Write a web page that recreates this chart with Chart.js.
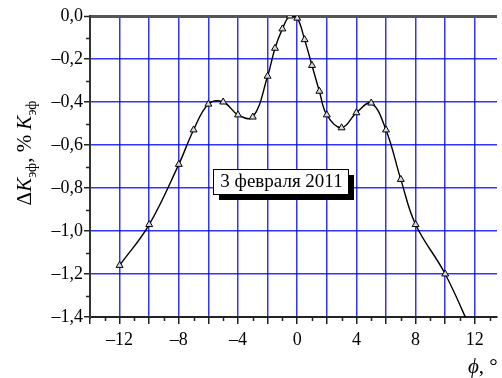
<!DOCTYPE html>
<html>
<head>
<meta charset="utf-8">
<script src="https://cdn.jsdelivr.net/npm/chart.js@4/dist/chart.umd.min.js"></script>
<style>
	html, body { margin: 0; padding: 0; background: #fff; }
	#wrap { width: 502px; height: 378px; overflow: hidden; }
</style>
</head>
<body>
<div id="wrap"><canvas id="chart" width="502" height="378"></canvas></div>
<script>
// Угол phi, градусы
const phi = [-12, -10, -8, -7, -6, -5, -4, -3, -2, -1.5, -1, -0.5, 0, 0.5, 1, 1.5, 2, 3, 4, 5, 6, 7, 8, 10, 12]
// Изменение K_эф, % (последняя точка за пределами графика)
const dK = [-1.16, -0.97, -0.69, -0.53, -0.41, -0.4, -0.46, -0.47, -0.28, -0.15, -0.06, 0.0, -0.01, -0.11, -0.23, -0.35, -0.46, -0.52, -0.45, -0.405, -0.53, -0.76, -0.97, -1.2, -1.5]

// Деления осей
const xMajor = [-14, -12, -10, -8, -6, -4, -2, 0, 2, 4, 6, 8, 10, 12]
const xMinor = [-13, -11, -9, -7, -5, -3, -1, 1, 3, 5, 7, 9, 11, 13]
const xLabeled = [-12, -8, -4, 0, 4, 8, 12]
const yMajor = [0, -0.2, -0.4, -0.6, -0.8, -1.0, -1.2, -1.4]
const yMinor = [-0.1, -0.3, -0.5, -0.7, -0.9, -1.1, -1.3]

const annotationText = '3 февраля 2011'
const serif = '"Liberation Serif", "DejaVu Serif", serif'
const gridBlue = 'rgba(0, 0, 255, 0.8)'

function fmtY(v) {
	if (Math.abs(v) < 1e-9) return '0,0'
	return '\u2013' + Math.abs(v).toFixed(1).replace('.', ',')
}

// Мелкие деления, подписи осей и рамка с датой
const decorPlugin = {
	id: 'decor',
	afterDraw(chart) {
		const ctx = chart.ctx
		const x = chart.scales.x
		const y = chart.scales.y
		const area = chart.chartArea
		ctx.save()
		ctx.strokeStyle = '#222'
		ctx.lineWidth = 1.5
		ctx.beginPath()
		xMinor.forEach((v) => {
			const px = Math.round(x.getPixelForValue(v)) + 0.5
			ctx.moveTo(px, area.bottom)
			ctx.lineTo(px, area.bottom + 4)
		})
		yMinor.forEach((v) => {
			const py = Math.round(y.getPixelForValue(v)) + 0.5
			ctx.moveTo(area.left - 4, py)
			ctx.lineTo(area.left, py)
		})
		ctx.stroke()

		// Рамка с тенью
		const bx = 213, by = 169, bw = 135, bh = 25
		ctx.fillStyle = '#000'
		ctx.fillRect(bx + 6, by + 6, bw, bh)
		ctx.fillStyle = '#fff'
		ctx.fillRect(bx, by, bw, bh)
		ctx.strokeStyle = '#000'
		ctx.lineWidth = 1
		ctx.strokeRect(bx + 0.5, by + 0.5, bw, bh)
		ctx.font = '19px ' + serif
		ctx.fillStyle = '#000'
		ctx.textAlign = 'center'
		ctx.textBaseline = 'middle'
		ctx.fillText(annotationText, bx + bw / 2 + 1, by + bh / 2 + 1)

		// Подпись оси X
		ctx.textAlign = 'left'
		ctx.textBaseline = 'alphabetic'
		ctx.font = 'italic 21px ' + serif
		ctx.fillText('\u03D5', 468, 373)
		const w = ctx.measureText('\u03D5').width
		ctx.font = '21px ' + serif
		ctx.fillText(', \u00B0', 468 + w, 373)

		// Подпись оси Y
		const parts = [
			{ t: '\u0394', f: '21px ' + serif, dy: 0 },
			{ t: 'K', f: 'italic 21px ' + serif, dy: 0 },
			{ t: 'эф', f: '14px ' + serif, dy: 5 },
			{ t: ', % ', f: '21px ' + serif, dy: 0 },
			{ t: 'K', f: 'italic 21px ' + serif, dy: 0 },
			{ t: 'эф', f: '14px ' + serif, dy: 5 },
		]
		let total = 0
		parts.forEach((p) => {
			ctx.font = p.f
			p.w = ctx.measureText(p.t).width
			total += p.w
		})
		ctx.translate(31, 153)
		ctx.rotate(-Math.PI / 2)
		let cx = -total / 2
		parts.forEach((p) => {
			ctx.font = p.f
			ctx.fillText(p.t, cx, p.dy)
			cx += p.w
		})
		ctx.restore()
	},
}

const ctx = document.getElementById('chart').getContext('2d')
const chart = new Chart(ctx, {
	type: 'line',
	data: {
		labels: phi,
		datasets: [
			{
				data: phi.map((v, i) => ({ x: v, y: dK[i] })),
				borderColor: '#000',
				borderWidth: 1.4,
				tension: 0.4,
				pointStyle: 'triangle',
				pointRadius: 4,
				pointBackgroundColor: '#d8d8d8',
				pointBorderColor: '#000',
				pointBorderWidth: 1,
				fill: false,
			},
		],
	},
	options: {
		responsive: false,
		animation: false,
		events: [],
		layout: { padding: { top: 16, right: 0, left: 0, bottom: 0 } },
		plugins: {
			legend: { display: false },
			tooltip: { enabled: false },
		},
		scales: {
			x: {
				type: 'linear',
				min: -14,
				max: 13.5,
				afterBuildTicks: (scale) => {
					scale.ticks = xMajor.map((v) => ({ value: v }))
				},
				afterFit: (scale) => {
					scale.height = 61
				},
				border: { display: true, color: '#222', width: 2 },
				grid: {
					color: (c) => (c.tick && c.tick.value === -14 ? 'rgba(0,0,0,0)' : gridBlue),
					lineWidth: 1.5,
					tickLength: 7,
					tickColor: '#222',
					tickWidth: 1.5,
				},
				ticks: {
					autoSkip: false,
					maxRotation: 0,
					padding: 5,
					color: '#000',
					font: { family: serif, size: 18 },
					callback: (v) => (xLabeled.includes(v) ? (v < 0 ? '\u2013' + Math.abs(v) : String(v)) : ''),
				},
			},
			y: {
				type: 'linear',
				min: -1.4,
				max: 0,
				afterBuildTicks: (scale) => {
					scale.ticks = yMajor.map((v) => ({ value: v }))
				},
				afterFit: (scale) => {
					scale.width = 90
				},
				border: { display: true, color: '#333', width: 2 },
				grid: {
					color: (c) => (c.tick && Math.abs(c.tick.value) < 1e-9 ? '#555' : gridBlue),
					lineWidth: (c) => (c.tick && Math.abs(c.tick.value) < 1e-9 ? 3 : 1.5),
					tickLength: 6,
					tickColor: '#222',
					tickWidth: 1.5,
				},
				ticks: {
					autoSkip: false,
					padding: 1,
					color: '#000',
					font: { family: serif, size: 18 },
					callback: (v) => fmtY(v),
				},
			},
		},
	},
	plugins: [decorPlugin],
})
</script>
</body>
</html>
